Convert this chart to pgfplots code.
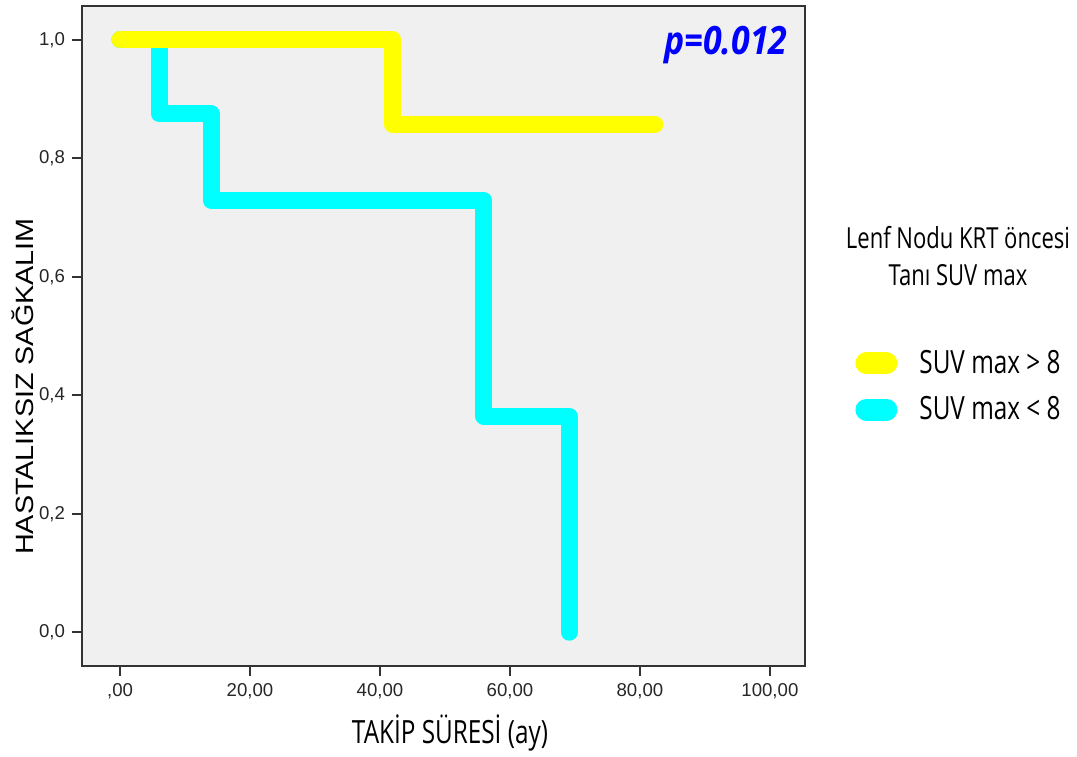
\documentclass[border=0pt]{standalone}
\usepackage{fontspec}
\setmainfont{Liberation Sans}
\newfontfamily\cond{Open Sans}[FakeStretch=0.76]
\newfontfamily\condp{Open Sans}[FakeStretch=0.87]
\newfontfamily\widesans{Liberation Sans}[FakeStretch=1.15]
\usepackage{pgfplots}
\pgfplotsset{compat=1.18}
\definecolor{bgray}{HTML}{F0F0F0}
\definecolor{yel}{HTML}{FFFF00}
\definecolor{cya}{HTML}{00FFFF}
\definecolor{pblue}{HTML}{0000FF}
\begin{document}
\begin{tikzpicture}
\useasboundingbox (-41pt,-45pt) rectangle (497.5pt,333pt);
\begin{axis}[
  scale only axis, width=361.5pt, height=330pt,
  at={(0,0)}, anchor=south west,
  clip mode=individual,
  xmin=-5.85, xmax=105.4, ymin=-0.057, ymax=1.057,
  axis background/.style={fill=bgray},
  axis line style={black!80, line width=1pt},
  xtick={0,20,40,60,80,100}, ytick={0,0.2,0.4,0.6,0.8,1},
  xticklabels={{,00},{20,00},{40,00},{60,00},{80,00},{100,00}},
  yticklabels={{0,0},{0,2},{0,4},{0,6},{0,8},{1,0}},
  tick align=outside, tick pos=left, major tick length=5pt,
  tick style={black!80, line width=1pt},
  ticklabel style={font=\fontsize{9.3}{11}\selectfont, text=black!85},
  xlabel={\cond TAKİP SÜRESİ (ay)},
  xlabel style={font=\fontsize{16}{19}\selectfont, at={(axis description cs:0.509,-0.1015)}, anchor=center},
  ylabel={\widesans HASTALIKSIZ SAĞKALIM},
  ylabel style={font=\fontsize{12.5}{15}\selectfont, at={(axis description cs:-0.082,0.4235)}, anchor=center},
  legend style={draw=none, fill=none, at={(axis description cs:1.2144,0.4235)}, anchor=center,
    font=\cond\fontsize{16}{19}\selectfont, row sep=6pt,
    /tikz/every odd column/.append style={column sep=9pt}},
  legend cell align=left,
  legend image code/.code={\draw[#1, line width=11pt, line cap=round] (0pt,0pt) -- (10pt,0pt);},
  reverse legend,
]
\addplot[cya, line width=8.5pt, line cap=round, line join=round] coordinates {
  (0,1) (6,1) (6,0.875) (14,0.875) (14,0.729) (56,0.729) (56,0.3646) (69.1,0.3646) (69.1,0)
};
\addlegendentry{SUV max < 8}
\addplot[yel, line width=8.5pt, line cap=round, line join=round] coordinates {
  (0,1) (42,1) (42,0.857) (82.3,0.857)
};
\addlegendentry{SUV max > 8}
\node[align=center, font=\cond\fontsize{14.5}{18.5}\selectfont] at (axis description cs:1.2116,0.621) {Lenf Nodu KRT öncesi\\Tanı SUV max};
\node[anchor=base east, inner sep=0pt, text=pblue, font=\condp\bfseries\itshape\fontsize{19.5}{22}\selectfont] at (axis description cs:0.9765,0.9258) {p=0.012};
\end{axis}
\end{tikzpicture}
\end{document}
